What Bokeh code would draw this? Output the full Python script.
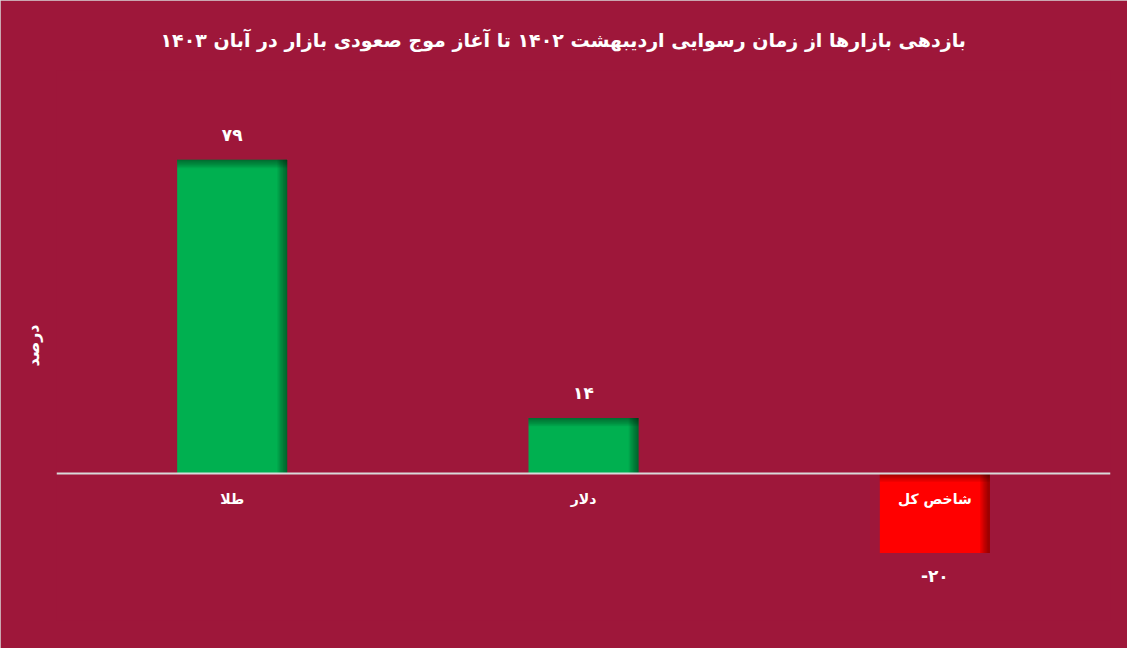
import math
from bokeh.plotting import figure
from bokeh.models import ColumnDataSource, FactorRange, Range1d, Span, LinearAxis, FixedTicker
from bokeh.transform import dodge
from bokeh.core.properties import value
from bokeh.embed import file_html
from bokeh.resources import INLINE

title_text = "بازدهی بازارها از زمان رسوایی اردیبهشت ۱۴۰۲ تا آغاز موج صعودی بازار در آبان ۱۴۰۳"
y_label = "درصد"
categories = ["طلا", "دلار", "شاخص کل"]
values = [79, 14, -20]
value_labels = ["۷۹", "۱۴", "-۲۰"]
colors = ["#00B050", "#00B050", "#FF0000"]

BG = "#9E173A"
FONT = "DejaVu Sans"
W, H = 1127, 648
ML, MR, MT, MB = 56, 17, 70, 28
Y0, Y1 = -37, 101.5
frame_w = W - ML - MR
frame_h = H - MT - MB
px_x = len(categories) / frame_w      # data units per px (x)
px_y = (Y1 - Y0) / frame_h            # data units per px (y)
BAR_W = 110 * px_x

p = figure(width=W, height=H,
           x_range=FactorRange(*categories, range_padding=0),
           y_range=Range1d(Y0, Y1),
           output_backend="svg", toolbar_location=None,
           min_border_left=ML, min_border_right=MR,
           min_border_top=MT, min_border_bottom=MB,
           background_fill_color=None, border_fill_color=BG,
           outline_line_color=None, y_axis_location=None)
p.xaxis.visible = False
p.grid.visible = False
p.stylesheets = [":host { background: %s; outline: 2px solid #D9D9D9; outline-offset: -2px; }" % BG]

# title
p.title.text = title_text
p.title.align = "left"
p.title.offset = 104
p.title.text_color = "white"
p.title.text_font = FONT
p.title.text_font_style = "bold"
p.title.text_font_size = "19px"
p.title.standoff = 40

# y axis (label only)
lab_center = 30.2
yax = LinearAxis(axis_label=y_label, axis_label_text_color="white",
                 axis_label_text_font=FONT, axis_label_text_font_style="bold",
                 axis_label_text_font_size="16px",
                 ticker=FixedTicker(ticks=[]),
                 bounds=(Y0, 2 * lab_center - Y0),
                 major_tick_line_color=None,
                 minor_tick_line_color=None, axis_line_color=None,
                 axis_label_standoff=14)
p.add_layout(yax, "left")

tops = [max(v, 0) for v in values]
bottoms = [min(v, 0) for v in values]
src = ColumnDataSource(dict(
    cat=categories, val=values, top=tops, bottom=bottoms, color=colors,
    lab=value_labels,
    lab_off=[-25 if v >= 0 else 23 for v in values],
))

p.vbar(x="cat", top="top", bottom="bottom", width=BAR_W, fill_color="color",
       line_color=None, source=src)

# inner shading along right and top edges
N = 7
for i in range(N):
    wpx = (i + 1) * 1.4
    off = BAR_W / 2 - wpx * px_x / 2
    p.vbar(x=dodge("cat", off, range=p.x_range), top="top", bottom="bottom",
           width=wpx * px_x, fill_color="black", fill_alpha=0.07,
           line_color=None, source=src)
for i in range(N):
    hpx = (i + 1) * 1.2
    src_t = ColumnDataSource(dict(cat=categories, top=tops,
                                  bottom=[t - hpx * px_y for t in tops]))
    p.vbar(x="cat", top="top", bottom="bottom", width=BAR_W,
           fill_color="black", fill_alpha=0.06, line_color=None, source=src_t)

p.add_layout(Span(location=0, dimension="width", line_color="#D9D9D9",
                  line_width=2))

# value labels
p.text(x="cat", y="val", text="lab", y_offset="lab_off", source=src,
       text_align="center", text_baseline="middle", text_color="white",
       text_font=value(FONT), text_font_style="bold", text_font_size="17px")

# category labels along the zero line
cat_src = ColumnDataSource(dict(cat=categories, y=[0] * len(categories)))
p.text(x="cat", y="y", text="cat", y_offset=25, source=cat_src,
       text_align="center", text_baseline="middle", text_color="white",
       text_font=value(FONT), text_font_style="bold", text_font_size="14px")

open("out.html", "w").write(file_html(p, INLINE))
